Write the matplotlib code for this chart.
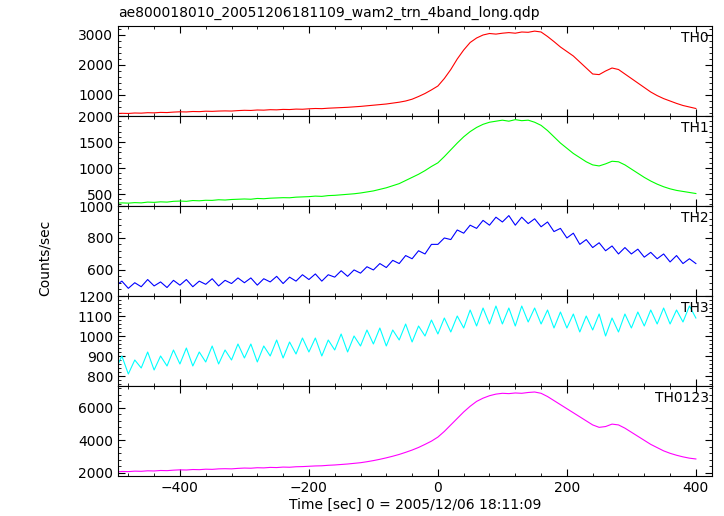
import numpy as np
import matplotlib.pyplot as plt
from matplotlib.ticker import AutoMinorLocator

t = np.arange(-500, 401, 10)

th0 = [380,390,385,400,395,410,405,420,415,430,
       440,435,450,445,460,455,465,470,465,480,
       490,485,500,495,510,505,520,515,530,525,
       540,550,545,560,570,580,590,605,620,640,
       660,680,700,730,760,800,860,950,1050,1170,
       1300,1550,1850,2200,2500,2750,2900,3000,3050,3030,
       3060,3080,3060,3100,3090,3130,3100,2950,2780,2600,
       2450,2300,2100,1900,1700,1680,1800,1900,1850,1700,
       1550,1400,1250,1100,980,880,800,720,650,600,
       550]
th1 = [320,330,325,335,330,345,340,350,345,360,
       365,360,375,370,380,378,390,385,395,400,
       405,400,415,410,420,425,430,428,440,445,
       450,460,455,470,475,485,495,505,520,540,
       560,590,620,660,700,760,820,880,950,1030,
       1100,1220,1350,1480,1600,1700,1780,1840,1880,1900,
       1920,1900,1930,1910,1920,1880,1820,1720,1600,1480,
       1380,1280,1200,1120,1060,1040,1080,1130,1120,1060,
       980,900,820,750,690,640,600,570,550,530,
       510]
th2 = [500,530,485,520,495,540,500,525,490,535,
       505,540,495,530,510,545,500,535,515,550,
       520,550,505,545,525,560,515,555,530,570,
       540,575,530,570,555,595,560,600,580,620,
       600,640,615,660,640,690,670,720,700,760,
       760,800,790,850,830,880,860,910,880,930,
       900,940,880,930,890,920,870,900,840,860,
       800,830,760,790,740,770,720,750,700,740,
       700,730,680,710,670,700,650,690,640,670,
       640]
th3 = [830,900,810,880,840,920,830,900,850,930,
       860,940,850,920,870,950,860,930,880,960,
       890,960,870,950,900,980,890,970,910,990,
       920,990,900,980,930,1010,920,1000,950,1030,
       960,1040,950,1030,980,1060,970,1050,1000,1080,
       1010,1090,1020,1100,1040,1130,1050,1140,1060,1150,
       1060,1140,1050,1150,1070,1140,1060,1130,1040,1120,
       1040,1110,1020,1100,1030,1110,1000,1090,1020,1110,
       1040,1120,1050,1130,1060,1140,1060,1130,1070,1150,
       1090]
th0123 = [2050,2080,2070,2100,2090,2120,2110,2140,2130,2160,
          2180,2170,2200,2190,2220,2210,2240,2250,2240,2270,
          2290,2280,2310,2300,2330,2320,2350,2340,2370,2380,
          2400,2420,2430,2460,2480,2510,2540,2580,2620,2680,
          2750,2830,2920,3020,3130,3260,3400,3560,3750,3950,
          4200,4550,4950,5350,5750,6100,6400,6600,6750,6850,
          6900,6880,6920,6900,6950,6980,6900,6700,6450,6200,
          5950,5700,5450,5200,4950,4800,4850,5000,4950,4750,
          4500,4250,4000,3750,3550,3350,3200,3080,2980,2900,
          2850]

series = [th0, th1, th2, th3, th0123]
names = ['TH0', 'TH1', 'TH2', 'TH3', 'TH0123']
colors = ['red', '#00ff00', 'blue', 'cyan', 'magenta']
ylims = [(300, 3300), (270, 2000), (437, 1000), (750, 1200), (1800, 7350)]
yticks = [[1000, 2000, 3000], [500, 1000, 1500, 2000], [600, 800, 1000],
          [800, 900, 1000, 1100, 1200], [2000, 4000, 6000]]

fig = plt.figure(figsize=(7.24, 5.16), dpi=100)
left, width = 118/724, 594/724
top, h = 1 - 26/516, 90/516
axes = []
for i in range(5):
    ax = fig.add_axes([left, top - (i+1)*h, width, h])
    ax.plot(t, series[i], color=colors[i], lw=0.8)
    ax.set_xlim(-496, 425)
    ax.set_ylim(*ylims[i])
    ax.set_yticks(yticks[i])
    ax.xaxis.set_minor_locator(AutoMinorLocator(5))
    ax.yaxis.set_minor_locator(AutoMinorLocator(5))
    ax.tick_params(which='both', direction='in', top=True, right=True, labelsize=10)
    ax.tick_params(which='major', length=5)
    ax.tick_params(which='minor', length=2.5)
    ax.text(0.995, 0.95, names[i], transform=ax.transAxes, ha='right', va='top', fontsize=10)
    if i < 4:
        ax.set_xticklabels([])
    axes.append(ax)

axes[-1].set_xticks([-400, -200, 0, 200, 400])
axes[-1].set_xlabel('Time [sec] 0 = 2005/12/06 18:11:09', fontsize=10, labelpad=2)
fig.text(0.062, 0.5, 'Counts/sec', rotation=90, va='center', ha='center', fontsize=10)
fig.text(left, 0.975, 'ae800018010_20051206181109_wam2_trn_4band_long.qdp', fontsize=10, va='center')

plt.savefig('out.png')
